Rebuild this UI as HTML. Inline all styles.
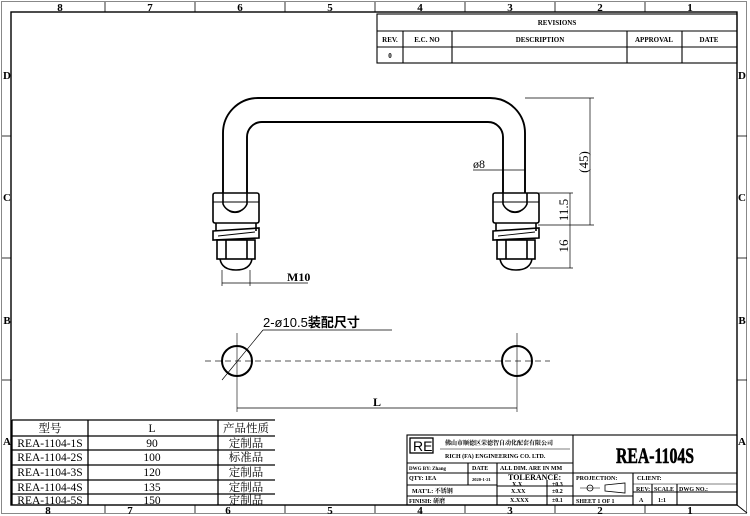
<!DOCTYPE html>
<html><head><meta charset="utf-8"><style>
html,body{margin:0;padding:0;background:#fff}
svg{display:block}
text{font-family:"Liberation Serif","Noto Serif CJK SC",serif;fill:#000}
.s{font-family:"Liberation Sans","Noto Sans CJK SC",sans-serif}
</style></head><body>
<svg width="750" height="516" viewBox="0 0 750 516" xmlns="http://www.w3.org/2000/svg">
<g fill="none" stroke="#000">
<rect x="1.5" y="1.5" width="745" height="512" stroke-width="1" stroke="#888"/>
<rect x="11" y="12" width="726" height="493" stroke-width="1.4"/>
<line x1="737" y1="505" x2="747" y2="513" stroke-width="1"/>
</g>
<g stroke="#000" stroke-width="0.8">
<line x1="105" y1="2" x2="105" y2="12"/><line x1="195" y1="2" x2="195" y2="12"/><line x1="285" y1="2" x2="285" y2="12"/><line x1="375" y1="2" x2="375" y2="12"/><line x1="465" y1="2" x2="465" y2="12"/><line x1="555" y1="2" x2="555" y2="12"/><line x1="645" y1="2" x2="645" y2="12"/>
<line x1="105" y1="505" x2="105" y2="513"/><line x1="195" y1="505" x2="195" y2="513"/><line x1="285" y1="505" x2="285" y2="513"/><line x1="375" y1="505" x2="375" y2="513"/><line x1="465" y1="505" x2="465" y2="513"/><line x1="555" y1="505" x2="555" y2="513"/><line x1="645" y1="505" x2="645" y2="513"/>
<line x1="2" y1="136" x2="11" y2="136"/><line x1="2" y1="258" x2="11" y2="258"/><line x1="2" y1="380" x2="11" y2="380"/>
<line x1="737" y1="136" x2="747" y2="136"/><line x1="737" y1="258" x2="747" y2="258"/><line x1="737" y1="380" x2="747" y2="380"/>
</g>
<g font-size="11" font-weight="bold" text-anchor="middle">
<text x="60" y="11">8</text><text x="150" y="11">7</text><text x="240" y="11">6</text><text x="330" y="11">5</text><text x="420" y="11">4</text><text x="510" y="11">3</text><text x="600" y="11">2</text><text x="690" y="11">1</text>
<text x="48" y="514">8</text><text x="130" y="514">7</text><text x="228" y="514">6</text><text x="330" y="514">5</text><text x="420" y="514">4</text><text x="510" y="514">3</text><text x="600" y="514">2</text><text x="690" y="514">1</text>
<text x="7" y="79">D</text><text x="7" y="201">C</text><text x="7" y="324">B</text><text x="7" y="445">A</text>
<text x="742" y="79">D</text><text x="742" y="201">C</text><text x="742" y="324">B</text><text x="742" y="445">A</text>
</g>
<!-- revisions -->
<g fill="none" stroke="#000" stroke-width="1.1">
<rect x="377" y="14" width="360" height="49"/>
<line x1="377" y1="31" x2="737" y2="31"/><line x1="377" y1="47" x2="737" y2="47"/>
<line x1="403" y1="31" x2="403" y2="63"/><line x1="452" y1="31" x2="452" y2="63"/><line x1="627" y1="31" x2="627" y2="63"/><line x1="682" y1="31" x2="682" y2="63"/>
</g>
<g font-size="7" font-weight="bold" text-anchor="middle">
<text x="557" y="25">REVISIONS</text><text x="390" y="42">REV.</text><text x="427" y="42">E.C. NO</text><text x="540" y="42">DESCRIPTION</text><text x="654" y="42">APPROVAL</text><text x="709" y="42">DATE</text><text x="390" y="58">0</text>
</g>
<!-- handle -->
<g fill="none" stroke="#000" stroke-width="1.9">
<path d="M223,193 V133 A35,35 0 0 1 258,98 H490 A35,35 0 0 1 525,133 V193"/>
<path d="M247,193 V137 A15,15 0 0 1 262,122 H488 A15,15 0 0 1 503,137 V193"/>
</g>
<g id="fx" fill="none" stroke="#000" stroke-width="1.6">
<rect x="213" y="193" width="46" height="30" rx="2"/>
<line x1="213" y1="202" x2="259" y2="202" stroke-width="0.9"/>
<path d="M223,193 V204 A13,13 0 0 0 247,204 V193"/>
<path d="M229,211 A8,5 0 0 0 241,211" stroke-width="0.9"/>
<line x1="216" y1="223" x2="216" y2="231"/><line x1="256" y1="223" x2="256" y2="231"/>
<path d="M213,231 L259,228 V238 L213,240 Z"/>
<line x1="218" y1="236" x2="255" y2="232" stroke-width="0.9"/>
<rect x="217" y="240" width="38" height="19"/>
<line x1="226" y1="240" x2="226" y2="259"/><line x1="247" y1="240" x2="247" y2="259"/>
<path d="M220,259 Q222,270 236,270 Q250,270 252,259"/>
</g>
<use href="#fx" transform="translate(280,0)"/>
<!-- dims top -->
<g stroke="#000" stroke-width="0.7" fill="none">
<line x1="525" y1="98" x2="594" y2="98"/><line x1="590" y1="98" x2="590" y2="225"/>
<line x1="538" y1="193" x2="573" y2="193"/><line x1="538" y1="225" x2="594" y2="225"/>
<line x1="570" y1="193" x2="570" y2="268"/><line x1="530" y1="268" x2="573" y2="268"/>
<line x1="473" y1="170" x2="525" y2="170"/>
<line x1="222" y1="270" x2="222" y2="286"/><line x1="250" y1="270" x2="250" y2="286"/>
<line x1="222" y1="283" x2="308" y2="283"/>
</g>
<g font-size="13" class="s">
<text transform="translate(588,162) rotate(-90)" text-anchor="middle">(45)</text>
<text transform="translate(568,210) rotate(-90)" text-anchor="middle">11.5</text>
<text transform="translate(568,246) rotate(-90)" text-anchor="middle">16</text>
<text x="473" y="168" font-size="12">ø8</text>
</g>
<text x="287" y="281" font-size="12" font-weight="bold">M10</text>
<!-- bottom view -->
<g stroke="#000" fill="none">
<line x1="205" y1="361" x2="550" y2="361" stroke-width="0.9" stroke-dasharray="6,4" stroke="#555"/>
<line x1="237" y1="333" x2="237" y2="412" stroke-width="0.6"/>
<line x1="517" y1="333" x2="517" y2="412" stroke-width="0.6"/>
<circle cx="237" cy="361" r="15" stroke-width="2"/>
<circle cx="517" cy="361" r="15" stroke-width="2"/>
<line x1="237" y1="408" x2="517" y2="408" stroke-width="0.7"/>
<line x1="263" y1="330" x2="392" y2="330" stroke-width="0.7"/>
<line x1="263" y1="330" x2="222" y2="380" stroke-width="0.7"/>
</g>
<text x="263" y="327" font-size="13" class="s">2-ø10.5<tspan font-weight="bold">装配尺寸</tspan></text>
<text x="373" y="406" font-size="12" font-weight="bold">L</text>
<!-- left table -->
<g stroke="#000" fill="none" stroke-width="1.3">
<line x1="12" y1="420" x2="275" y2="420"/>
<line x1="12" y1="436" x2="275" y2="436"/><line x1="12" y1="450" x2="275" y2="450"/><line x1="12" y1="465" x2="275" y2="465"/><line x1="12" y1="480" x2="275" y2="480"/><line x1="12" y1="494" x2="275" y2="494"/>
<line x1="12" y1="420" x2="12" y2="505"/><line x1="88" y1="420" x2="88" y2="505"/><line x1="218" y1="420" x2="218" y2="505"/>
</g>
<g font-size="11.5" text-anchor="middle" fill="#222">
<text x="50" y="432">型号</text><text x="152" y="432">L</text><text x="246" y="432">产品性质</text>
<text x="50" y="447">REA-1104-1S</text><text x="152" y="447">90</text><text x="246" y="447">定制品</text>
<text x="50" y="461">REA-1104-2S</text><text x="152" y="461">100</text><text x="246" y="461">标准品</text>
<text x="50" y="476">REA-1104-3S</text><text x="152" y="476">120</text><text x="246" y="476">定制品</text>
<text x="50" y="491">REA-1104-4S</text><text x="152" y="491">135</text><text x="246" y="491">定制品</text>
<text x="50" y="504">REA-1104-5S</text><text x="152" y="504">150</text><text x="246" y="504">定制品</text>
</g>
<!-- title block -->
<g stroke="#000" fill="none" stroke-width="1.1">
<rect x="407" y="435" width="330" height="70"/>
<line x1="573" y1="435" x2="573" y2="505"/>
<line x1="407" y1="463" x2="573" y2="463"/>
<line x1="407" y1="473" x2="737" y2="473"/>
<line x1="407" y1="485" x2="497" y2="485"/>
<line x1="407" y1="496" x2="497" y2="496"/>
<line x1="497" y1="486" x2="573" y2="486"/><line x1="497" y1="496" x2="573" y2="496"/>
<line x1="468" y1="463" x2="468" y2="485"/>
<line x1="497" y1="463" x2="497" y2="505"/>
<line x1="547" y1="480" x2="547" y2="505"/>
<line x1="633" y1="473" x2="633" y2="505"/>
<line x1="573" y1="496" x2="633" y2="496"/>
<line x1="633" y1="492" x2="737" y2="492"/>
<line x1="652" y1="484" x2="652" y2="505"/><line x1="677" y1="484" x2="677" y2="505"/>
<line x1="633" y1="484" x2="737" y2="484" stroke-width="0.5"/>
<rect x="410" y="438" width="23" height="15" stroke-width="1.3"/>
<line x1="440" y1="449" x2="570" y2="449" stroke-width="0.6"/>
<circle cx="590" cy="488" r="3" stroke-width="0.8"/>
<line x1="580" y1="488" x2="600" y2="488" stroke-width="0.6"/>
<path d="M605,485 L625,483 V493 L605,491 Z" stroke-width="0.8"/>
</g>
<g font-weight="bold" font-size="6">
<text x="413" y="451" font-size="14" font-weight="normal" class="s">RE</text>
<text x="445" y="445" font-size="6">佛山市顺德区荣德智自动化配套有限公司</text>
<text x="445" y="458">RICH (FA) ENGINEERING CO. LTD.</text>
<text x="409" y="470" font-size="5">DWG BY: Zhang</text>
<text x="472" y="470">DATE</text>
<text x="500" y="470">ALL DIM. ARE IN MM</text>
<text x="409" y="480">QTY:  1EA</text>
<text x="472" y="481" font-size="4.5">2020-1-21</text>
<text x="508" y="480" font-size="8">TOLERANCE:</text>
<text x="512" y="486">X.X</text><text x="552" y="486">±0.3</text>
<text x="511" y="493">X.XX</text><text x="552" y="493">±0.2</text>
<text x="510" y="502">X.XXX</text><text x="552" y="502">±0.1</text>
<text x="412" y="493">MAT'L: 不锈钢</text>
<text x="409" y="503">FINISH: 研磨</text>
<text x="576" y="480">PROJECTION:</text>
<text x="576" y="503">SHEET  1 OF 1</text>
<text x="637" y="480">CLIENT:</text>
<text x="636" y="491">REV:</text><text x="654" y="491">SCALE</text><text x="679" y="491">DWG NO.:</text>
<text x="639" y="502">A</text><text x="658" y="502">1:1</text>
</g>
<text x="655" y="463" font-size="22" font-weight="bold" text-anchor="middle" textLength="78" lengthAdjust="spacingAndGlyphs" stroke="#000" stroke-width="0.6">REA-1104S</text>
</svg>
</body></html>
